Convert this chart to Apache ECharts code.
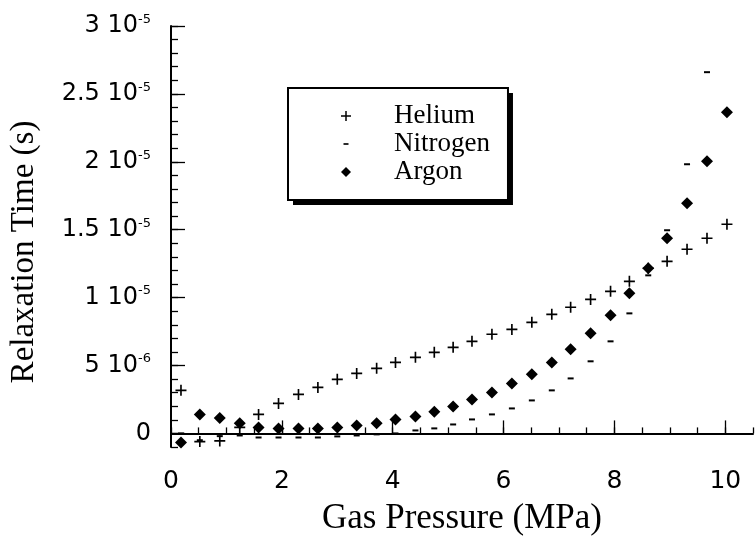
<!DOCTYPE html>
<html>
<head>
<meta charset="utf-8">
<script src="https://cdn.jsdelivr.net/npm/echarts@6/dist/echarts.min.js"></script>
<style>
  html, body { margin: 0; background: #fff; }
  #chart { width: 756px; height: 542px; }
</style>
</head>
<body>
<div id="chart"></div>
<script>
// gas pressure (MPa), shared by all three gases
const pressure = [0.18, 0.52, 0.88, 1.24, 1.58, 1.94, 2.3, 2.65, 3.0, 3.35, 3.71, 4.05, 4.41, 4.75,
  5.09, 5.43, 5.79, 6.15, 6.51, 6.87, 7.21, 7.57, 7.93, 8.27, 8.61, 8.95, 9.31, 9.67, 10.03];
// relaxation time, in units of 1e-6 s
const helium = [3.17, -0.6, -0.55, 0.44, 1.40, 2.21, 2.87, 3.39, 3.98, 4.42, 4.79, 5.23, 5.60, 5.97,
  6.34, 6.78, 7.30, 7.66, 8.18, 8.77, 9.29, 9.87, 10.46, 11.2, 12.16, 12.67, 13.56, 14.37, 15.4];
const nitrogen = [0.0, -0.5, -0.2, -0.15, -0.3, -0.3, -0.3, -0.3, -0.22, -0.15, -0.07, 0.0, 0.22, 0.37,
  0.66, 1.03, 1.40, 1.84, 2.43, 3.17, 4.05, 5.31, 6.78, 8.84, 11.64, 14.96, 19.82, 26.6];
const argon = [-0.66, 1.40, 1.13, 0.74, 0.44, 0.37, 0.37, 0.37, 0.44, 0.59, 0.74, 1.03, 1.25, 1.60,
  1.99, 2.50, 3.02, 3.68, 4.35, 5.23, 6.19, 7.37, 8.70, 10.32, 12.16, 14.37, 16.95, 20.04, 23.65];

const gases = ['Helium', 'Nitrogen', 'Argon'];
const xLabels = [0, 2, 4, 6, 8, 10];
const xMajor = [2, 4, 6, 8, 10];
const yLabels = [0, 5, 10, 15, 20, 25, 30];
const yMajor = [0, 5, 10, 15, 20, 25, 30];

const plusPath = 'path://M-0.9,-6H0.9V-0.9H6V0.9H0.9V6H-0.9V0.9H-6V-0.9H-0.9Z';
const minusPath = 'path://M-6,-6M6,6M-3,-1H3V1H-3Z';

const chart = echarts.init(document.getElementById('chart'));

function yFormat(v) {
  if (!yLabels.includes(v)) return '';
  if (v === 0) return '{n|0}';
  const exp = v < 10 ? -6 : -5;
  const mant = v < 10 ? v : v / 10;
  return '{n|' + mant + ' 10}{s|' + exp + '}';
}

const tickStyle = { color: '#000', width: 1.3 };
const markStyle = { color: '#000', opacity: 1 };
const sans = 'DejaVu Sans';
const serif = 'Liberation Serif';

// two stacked legends: the first gives the white box with its solid drop shadow,
// the second only adds the thin frame on top (so the shadow is not doubled on the stroke)
const legendBase = {
  orient: 'vertical',
  left: 288,
  top: 88,
  padding: [14, 18, 14, 53],
  itemGap: 0,
  itemWidth: 10,
  itemHeight: 10,
  selectedMode: false,
  data: gases
};

chart.setOption({
  animation: false,
  backgroundColor: '#fff',
  grid: { left: 169, right: 2, top: 26, bottom: 95 },
  legend: [Object.assign({}, legendBase, {
    backgroundColor: '#fff',
    shadowColor: '#000',
    shadowBlur: 0,
    shadowOffsetX: 5,
    shadowOffsetY: 5,
    textStyle: { fontFamily: serif, fontSize: 27, color: '#000', lineHeight: 28, padding: [0, 0, 0, 38] }
  }), Object.assign({}, legendBase, {
    backgroundColor: 'transparent',
    borderColor: '#000',
    borderWidth: 2,
    itemStyle: { opacity: 0 },
    textStyle: { fontFamily: serif, fontSize: 27, color: 'rgba(0,0,0,0)', lineHeight: 28, padding: [0, 0, 0, 38] }
  })],
  xAxis: [{
    type: 'value', min: 0, max: 10.5, interval: 0.5,
    axisLine: { lineStyle: { color: '#000', width: 2 } },
    axisTick: { inside: true, length: 6, lineStyle: tickStyle },
    splitLine: { show: false },
    axisLabel: {
      formatter: v => (xLabels.includes(v) ? String(v) : ''),
      fontFamily: sans, fontSize: 25, color: '#000', margin: 22
    },
    name: 'Gas Pressure (MPa)', nameLocation: 'middle', nameGap: 54,
    nameTextStyle: { fontFamily: serif, fontSize: 35, color: '#000' }
  }, {
    type: 'value', min: 0, max: 10.5, position: 'bottom',
    axisLine: { show: false },
    axisTick: { inside: true, length: 13, lineStyle: tickStyle, customValues: xMajor },
    axisLabel: { show: false },
    splitLine: { show: false }
  }],
  yAxis: [{
    type: 'value', min: -1, max: 30, interval: 1,
    axisLine: { show: true, lineStyle: { color: '#000', width: 2 } },
    axisTick: { show: true, inside: true, length: 7, lineStyle: tickStyle },
    splitLine: { show: false },
    axisLabel: {
      formatter: yFormat, margin: 20, color: '#000',
      rich: {
        n: { fontFamily: sans, fontSize: 24, color: '#000', lineHeight: 26 },
        s: { fontFamily: sans, fontSize: 13, color: '#000', lineHeight: 13, verticalAlign: 'top' }
      }
    },
    name: 'Relaxation Time (s)', nameLocation: 'middle', nameGap: 130,
    nameTextStyle: { fontFamily: serif, fontSize: 33, color: '#000', padding: [0, 31, 0, 0] }
  }, {
    type: 'value', min: -1, max: 30, position: 'left',
    axisLine: { show: false },
    axisTick: { show: true, inside: true, length: 14, lineStyle: tickStyle, customValues: yMajor },
    axisLabel: { show: false },
    splitLine: { show: false }
  }],
  series: [{
    name: 'Helium', type: 'scatter', symbol: plusPath, symbolSize: 11,
    itemStyle: markStyle,
    data: helium.map((v, i) => [pressure[i], v])
  }, {
    name: 'Nitrogen', type: 'scatter', symbol: minusPath, symbolSize: 12,
    itemStyle: markStyle,
    data: nitrogen.map((v, i) => [pressure[i], v])
  }, {
    name: 'Argon', type: 'scatter', symbol: 'diamond', symbolSize: 12,
    itemStyle: markStyle,
    data: argon.map((v, i) => [pressure[i], v])
  }]
});
window.addEventListener('resize', () => chart.resize());
</script>
</body>
</html>
